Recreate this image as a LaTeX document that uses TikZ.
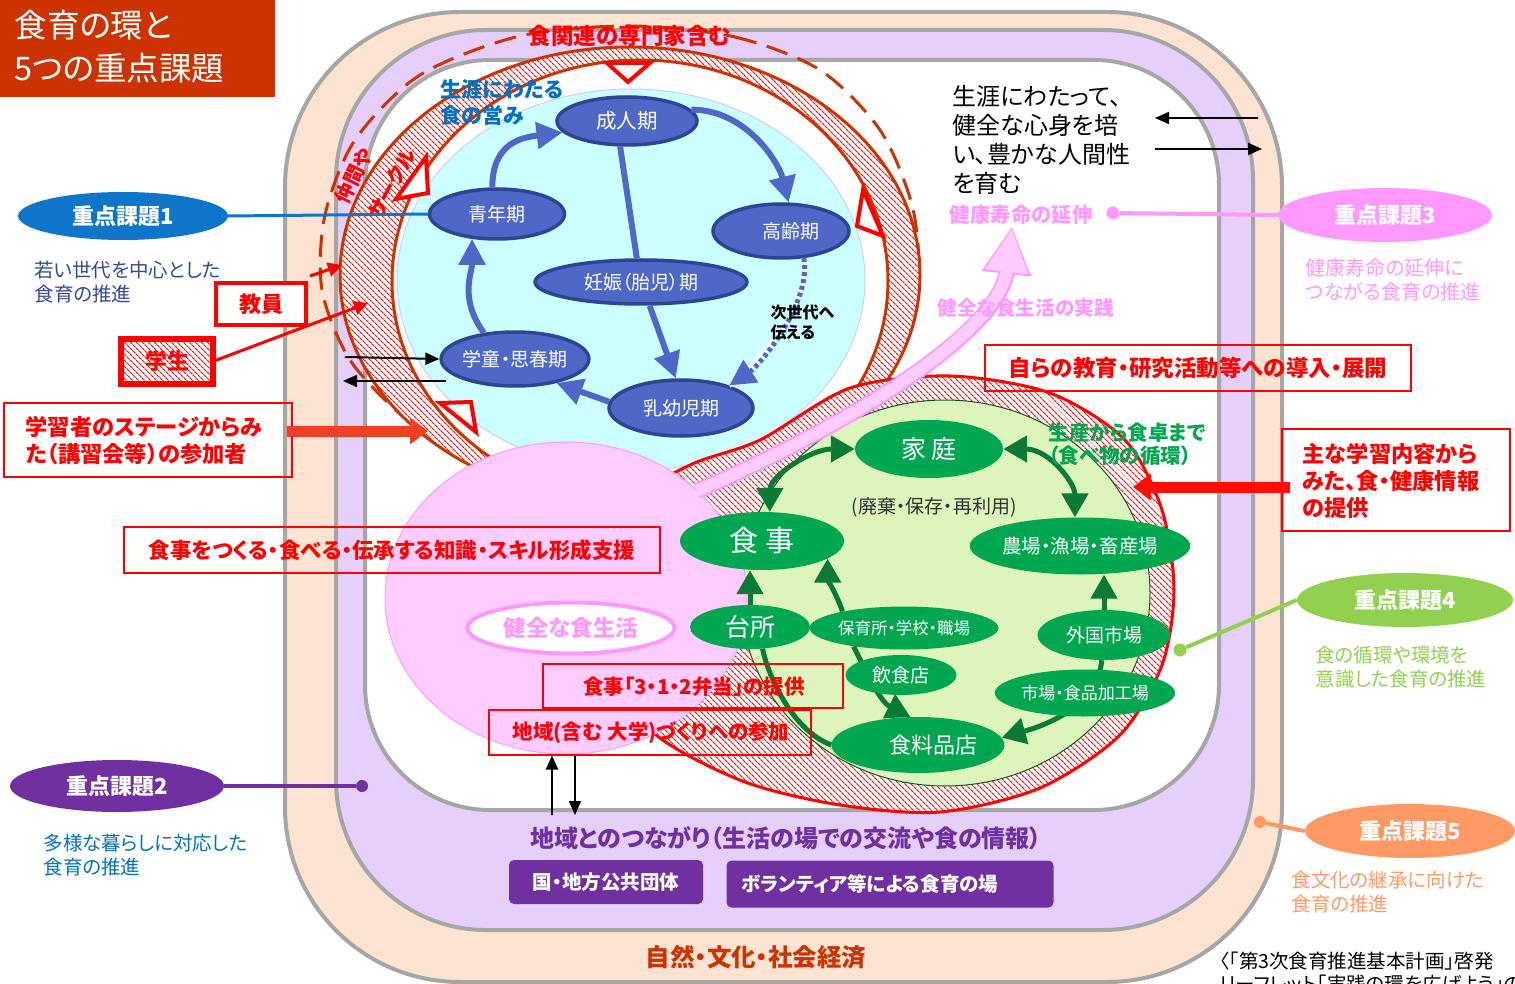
\documentclass[tikz,border=0pt]{standalone}
\usepackage{fontspec}
\setmainfont{Noto Sans CJK JP}[RawFeature=+palt]
\usetikzlibrary{arrows.meta,shapes.geometric,patterns.meta,calc}
\definecolor{peach}{HTML}{FDE4D2}
\definecolor{lav}{HTML}{E6D0FB}
\definecolor{bandgray}{HTML}{A6A6A6}
\definecolor{dred}{HTML}{CC3300}
\definecolor{cyanf}{HTML}{CCFFFF}
\definecolor{bfill}{HTML}{4F68C8}
\definecolor{bdraw}{HTML}{2E4593}
\definecolor{gnode}{HTML}{00A650}
\definecolor{glight}{HTML}{DDF5BC}
\definecolor{garr}{HTML}{0A7A36}
\definecolor{pinkd}{HTML}{FF99FF}
\definecolor{pinkl}{HTML}{FFCCFF}
\definecolor{kone}{HTML}{0E76C8}
\definecolor{ktwo}{HTML}{7030A0}
\definecolor{kfour}{HTML}{92D050}
\definecolor{kfive}{HTML}{FF9966}
\definecolor{txtblue}{HTML}{33479B}
\definecolor{lblue}{HTML}{0070C0}
\definecolor{oarr}{HTML}{EE4023}
\begin{document}
\begin{tikzpicture}[x=1pt,y=-1pt,
  band/.style={draw=bandgray,line width=4pt},
  blnode/.style={ellipse,fill=bfill,draw=bdraw,line width=3.5pt,text=white,inner sep=0pt,font=\fontsize{19}{21}\selectfont},
  grnode/.style={ellipse,fill=gnode,text=white,inner sep=0pt},
  kadai/.style={ellipse,text=white,inner sep=0pt,font=\bfseries\fontsize{22}{24}\selectfont},
  redbox/.style={draw=red,line width=2pt,inner sep=0pt},
  rtxt/.style={text=red,font=\bfseries\fontsize{20}{23}\selectfont},
  barrow/.style={draw=bfill,line width=6pt,-{Triangle[length=26pt,width=26pt]}},
  garrow/.style={draw=garr,line width=5pt,-{Triangle[length=24pt,width=26pt]}},
  gdarrow/.style={draw=garr,line width=5pt,{Triangle[length=24pt,width=26pt]}-{Triangle[length=24pt,width=26pt]}},
  blkarrow/.style={draw=black,line width=2pt,-{Triangle[length=14pt,width=12pt]}},
  rarrow/.style={draw=red,line width=3pt,-{Triangle[length=14pt,width=14pt]}},
  thickarrow/.style={draw=oarr,line width=11pt,-{Triangle[length=18pt,width=26pt]}},
  kdot/.style={circle,inner sep=0pt,minimum size=13pt},
  subtxt/.style={align=left,anchor=west,font=\fontsize{19.5}{24}\selectfont},
  tri/.style={draw=red,line width=4pt,fill=white,line join=miter},
  hatch/.style={pattern={Lines[angle=-45,distance=4pt,line width=1.2pt]},pattern color=red},
]
\useasboundingbox (0,0) rectangle (1515,984);

% bands
\draw[band,fill=peach,rounded corners=175pt] (285,12) rectangle (1282,982);
\draw[band,fill=lav,rounded corners=150pt] (336,30) rectangle (1253,930);
\draw[band,fill=white,rounded corners=125pt] (365,60) rectangle (1219,810);

% title
\fill[dred] (0,0) rectangle (275,97);
\node[anchor=west,text=white,align=left,font=\fontsize{32.5}{43}\selectfont] (title) at (11,47) {食育の環と\\5つの重点課題};

% dashed circle
\draw[dred,line width=3pt,dash pattern=on 22pt off 11pt] plot[smooth cycle] coordinates {(630,26) (735,37) (820,70) (880,130) (912,205) (918,275) (900,350) (850,420) (700,480) (550,480) (463,453) (405,418) (350,360) (322,290) (325,215) (355,140) (420,75) (520,36)};

% ring around life stages
\fill[white] (630,275) ellipse [x radius=290,y radius=228];
\fill[hatch] (630,275) ellipse [x radius=290,y radius=228];
\draw[dred,line width=3pt] (630,275) ellipse [x radius=290,y radius=228];
\draw[dred,line width=3pt,fill=white] (640,281) ellipse [x radius=248,y radius=221];
\draw[draw=blue!20,line width=1pt,fill=cyanf] (631,280) ellipse [x radius=234,y radius=191];

% ring around food cycle
\fill[white] plot[smooth cycle] coordinates {(760,440) (850,388) (950,376) (1050,393) (1125,440) (1162,510) (1174,590) (1162,665) (1120,735) (1040,788) (940,812) (840,805) (745,782) (660,738) (610,680) (600,600) (640,500) (690,465)};
\fill[hatch] plot[smooth cycle] coordinates {(760,440) (850,388) (950,376) (1050,393) (1125,440) (1162,510) (1174,590) (1162,665) (1120,735) (1040,788) (940,812) (840,805) (745,782) (660,738) (610,680) (600,600) (640,500) (690,465)};
\draw[red,line width=3pt] plot[smooth cycle] coordinates {(760,440) (850,388) (950,376) (1050,393) (1125,440) (1162,510) (1174,590) (1162,665) (1120,735) (1040,788) (940,812) (840,805) (745,782) (660,738) (610,680) (600,600) (640,500) (690,465)};
\draw[draw=garr!70!black,line width=1pt,fill=glight] (945,593) ellipse [x radius=205,y radius=193];

% pink circle
\draw[pinkd,fill=pinkl,line width=1pt] (566,598) ellipse [x radius=181,y radius=156];

% pink arrow
\coordinate (pa0) at (697,491);
\coordinate (pa1) at (1012,226);
\draw[pinkd,line width=16pt,-{Triangle[length=48pt,width=46pt]}] (pa0) .. controls (860,420) and (1000,330) .. (pa1);
\draw[pinkl,line width=12pt,-{Triangle[length=44pt,width=40pt]},shorten >=2pt] (pa0) .. controls (860,420) and (1000,330) .. (pa1);

% triangles on ring
\draw[tri] (607,63) -- (650,63) -- (628,82) -- cycle;
\draw[tri] (426,157) -- (428,193) -- (396,199) -- cycle;
\draw[tri] (863,190) -- (857,226) -- (883,236) -- cycle;
\draw[tri] (440,403) -- (471,402) -- (476,432) -- cycle;

% ring texts
\node[text=red,font=\bfseries\fontsize{22.5}{24}\selectfont] (senmon) at (630,36) {食関連の専門家含む};
\node[text=red,font=\bfseries\fontsize{20}{22}\selectfont,rotate=64,inner sep=0pt] (nakama) at (354,176) {仲間や};
\node[text=red,font=\bfseries\fontsize{20}{22}\selectfont,rotate=62,inner sep=0pt] (circle) at (392,184) {サークル};
\node[text=lblue,align=left,anchor=west,font=\bfseries\fontsize{21}{26}\selectfont] (shogai) at (437,103) {生涯にわたる\\食の営み};

% life stage nodes
\node[blnode,minimum width=140pt,minimum height=48pt,font=\fontsize{20.5}{22}\selectfont] (seijin) at (627,121) {成人期};
\node[blnode,minimum width=135pt,minimum height=50pt] (seinen) at (497,214) {青年期};
\node[blnode,minimum width=136pt,minimum height=54pt] (korei) at (781,231) {\raisebox{-5pt}{\hspace{20pt}高齢期}};
\node[blnode,minimum width=212pt,minimum height=44pt,font=\fontsize{19}{21}\selectfont] (ninshin) at (641,282) {妊娠（胎児）期};
\node[blnode,minimum width=144pt,minimum height=54pt] (gakudo) at (515,359) {学童・思春期};
\node[blnode,minimum width=144pt,minimum height=56pt] (nyuyo) at (681,408) {乳幼児期};

% life stage arrows
\draw[barrow] (seinen.100) .. controls +(0,-45) and +(-40,5) .. (seijin.190);
\draw[barrow] (seijin.10) .. controls +(55,0) and +(-10,-40) .. (korei.75);
\draw[bfill,line width=6pt] (seijin.255) -- (ninshin.100);
\draw[barrow] (ninshin.290) -- (nyuyo.100);
\draw[barrow] (nyuyo.175) -- (gakudo.330);
\draw[barrow] (gakudo.140) .. controls +(-25,-35) and +(0,35) .. (seinen.225);
\draw[white,line width=5pt] (korei.310) .. controls +(8,45) and +(30,-20) .. (nyuyo.25);
\draw[bfill,line width=5pt,dash pattern=on 4pt off 3pt,-{Triangle[length=26pt,width=26pt]}] (korei.310) .. controls +(8,45) and +(30,-20) .. (nyuyo.25);
\node[align=left,anchor=west,font=\bfseries\fontsize{16}{20}\selectfont] (jisedai) at (767,322) {次世代へ\\伝える};

% food cycle nodes
\node[grnode,minimum width=148pt,minimum height=58pt,font=\fontsize{25}{28}\selectfont] (katei) at (929,449) {家 庭};
\node[grnode,minimum width=164pt,minimum height=58pt,font=\fontsize{29}{32}\selectfont] (shokuji) at (762,541) {食 事};
\node[grnode,minimum width=219pt,minimum height=57pt,font=\fontsize{19.5}{21}\selectfont] (nojo) at (1080,546) {農場・漁場・畜産場};
\node[grnode,minimum width=189pt,minimum height=43pt,font=\fontsize{16.5}{18}\selectfont] (hoiku) at (904,628) {保育所・学校・職場};
\node[grnode,minimum width=133pt,minimum height=50pt,font=\fontsize{19}{21}\selectfont] (gaikoku) at (1104,635) {外国市場};
\node[grnode,minimum width=173pt,minimum height=56pt,font=\fontsize{22}{24}\selectfont] (shokuryo) at (918,745) {\raisebox{-4pt}{\hspace{30pt}食料品店}};
\node[grnode,minimum width=120pt,minimum height=44pt,font=\fontsize{25}{28}\selectfont] (daidokoro) at (750,627) {台所};

% food cycle arrows
\draw[gdarrow] (katei.180) .. controls +(-45,0) and +(0,-35) .. (shokuji.75);
\draw[gdarrow] (katei.0) .. controls +(45,0) and +(0,-35) .. (nojo.100);
\draw[garr,line width=5pt] (shokuryo.west) .. controls +(-40,-15) and +(5,25) .. (daidokoro.300);
\draw[garrow] (daidokoro.north) -- (daidokoro.north |- shokuji.south);
\draw[garrow] (hoiku.165) .. controls +(-5,-15) and +(0,20) .. (shokuji.345);
\draw[garrow] (hoiku.200) .. controls +(15,30) and +(-30,-15) .. (shokuryo.105);
\draw[garrow] (gaikoku.north) -- (gaikoku.north |- nojo.south);
\draw[garrow] (gaikoku.265) .. controls +(-5,50) and +(35,-10) .. (shokuryo.5);
\node[grnode,minimum width=111pt,minimum height=40pt,font=\fontsize{19}{21}\selectfont] (inshoku) at (901,675) {飲食店};
\node[grnode,minimum width=164pt,minimum height=47pt,font=\fontsize{17}{19}\selectfont] (ichiba) at (1085,693) {市場・食品加工場};

\node[text=black!80,font=\fontsize{19}{21}\selectfont] (haiki) at (934,507) {(廃棄・保存・再利用)};
\node[text=gnode,align=left,anchor=west,font=\bfseries\fontsize{20.5}{23}\selectfont] (seisan) at (1045,444) {生産から食卓まで\\（食べ物の循環）};

% pink area texts
\node[redbox,minimum width=536pt,minimum height=46pt,rtxt,font=\bfseries\fontsize{21.5}{24}\selectfont] (chishiki) at (392,550) {食事をつくる・食べる・伝承する知識・スキル形成支援};
\node[ellipse,draw=pinkd,line width=4pt,fill=white,minimum width=207pt,minimum height=51pt,inner sep=0pt,text=pinkd,font=\bfseries\fontsize{22.5}{24}\selectfont] (kenzen) at (571,628) {健全な食生活};
\node[redbox,minimum width=300pt,minimum height=44pt] (bento) at (693,686) {};
\node[rtxt,font=\bfseries\fontsize{20.5}{23}\selectfont] (bentotxt) at (694,687) {食事「3・1・2弁当」の提供};
\node[redbox,minimum width=322pt,minimum height=45pt] (chiiki) at (650,732) {};
\node[rtxt,font=\bfseries\fontsize{20.5}{23}\selectfont] (chiikitxt) at (651,733) {地域(含む 大学)づくりへの参加};

% bottom arrows
\coordinate (ub) at (552,815);
\coordinate (db) at (575,815);
\draw[blkarrow] (ub) -- (ub |- chiiki.south);
\draw[blkarrow] (db |- chiiki.south) -- (db);

% left side
\node[kadai,fill=kone,minimum width=210pt,minimum height=48pt] (k1) at (123,216) {重点課題1};
\draw[kone,line width=3pt] (k1.east) -- (seinen.west);
\node[subtxt,text=txtblue] (k1t) at (31,282) {若い世代を中心とした\\食育の推進};
\node[draw=red,line width=4pt,fill=white,minimum width=90pt,minimum height=42pt,inner sep=0pt,rtxt,font=\bfseries\fontsize{22}{24}\selectfont] (kyoin) at (261,304) {教員};
\node[draw=red,line width=4pt,fill=white,minimum width=90pt,minimum height=43pt,inner sep=0pt] (gakusei) at (167,361) {};
\fill[hatch] (gakusei.north west) rectangle (gakusei.south east);
\draw[red,line width=4pt] (gakusei.north west) rectangle (gakusei.south east);
\node[rtxt,font=\bfseries\fontsize{22}{24}\selectfont] (gakuseitxt) at (167,361) {学生};
\coordinate (kyoinend) at (342,265);
\coordinate (gakuseiend) at (368,303);
\draw[rarrow] (kyoin.north east) ++(2,-5) -- (kyoinend);
\draw[rarrow] (gakusei.east) -- (gakuseiend);
\node[redbox,minimum width=288pt,minimum height=74pt] (gakushu) at (148,440) {};
\node[rtxt,align=left,anchor=west,font=\bfseries\fontsize{22.3}{27}\selectfont] (gakushutxt) at (22,441) {学習者のステージからみ\\た（講習会等）の参加者};
\coordinate (ga0) at (287,431);
\coordinate (ga1) at (428,431);
\draw[thickarrow] (ga0) -- (ga1);
\coordinate (bl1) at (345,357);
\coordinate (bl2s) at (446,381);
\coordinate (bl2e) at (343,381);
\draw[blkarrow] (bl1) -- (gakudo.west);
\draw[blkarrow] (bl2s) -- (bl2e);

\node[kadai,fill=ktwo,minimum width=214pt,minimum height=52pt] (k2) at (117,786) {重点課題2};
\node[kdot,fill=ktwo,minimum size=12pt] (k2dot) at (362,786) {};
\draw[ktwo,line width=4pt] (k2.east) -- (k2dot);
\node[subtxt,text=lblue] (k2t) at (40,855) {多様な暮らしに対応した\\食育の推進};

% right side
\node[align=left,anchor=west,font=\fontsize{24}{29}\selectfont] (ikumu) at (949,140) {生涯にわたって、\\健全な心身を培\\い、豊かな人間性\\を育む};
\coordinate (ta1s) at (1258,118);
\coordinate (ta1e) at (1155,118);
\coordinate (ta2s) at (1155,149);
\coordinate (ta2e) at (1262,149);
\draw[blkarrow] (ta1s) -- (ta1e);
\draw[blkarrow] (ta2s) -- (ta2e);
\node[text=pinkd,font=\bfseries\fontsize{20.5}{22}\selectfont,anchor=west] (jumyo) at (946,215) {健康寿命の延伸};
\node[kadai,fill=pinkd,minimum width=214pt,minimum height=54pt] (k3) at (1385,215) {重点課題3};
\node[kdot,fill=pinkd] (k3dot) at (1113,213) {};
\draw[pinkd,line width=4pt] (k3dot) -- (k3.west);
\node[subtxt,text=pinkd,font=\fontsize{20}{24}\selectfont] (k3t) at (1302,280) {健康寿命の延伸に\\つながる食育の推進};
\node[text=pinkd,font=\bfseries\fontsize{19.7}{22}\selectfont,anchor=west] (jissen) at (934,308) {健全な食生活の実践};

\node[redbox,minimum width=426pt,minimum height=46pt,rtxt,font=\bfseries\fontsize{22.5}{25}\selectfont] (jira) at (1198,368) {自らの教育・研究活動等への導入・展開};
\node[redbox,minimum width=228pt,minimum height=102pt] (omona) at (1396,480) {};
\node[rtxt,align=left,anchor=west,font=\bfseries\fontsize{22.3}{27}\selectfont] (omonatxt) at (1299,481) {主な学習内容から\\みた、食・健康情報\\の提供};
\coordinate (oa0) at (1290,487);
\coordinate (oa1) at (1133,487);
\draw[thickarrow,draw=red!90!orange] (oa0) -- (oa1);

\node[kadai,fill=kfour,minimum width=216pt,minimum height=54pt] (k4) at (1405,600) {重点課題4};
\node[kdot,fill=kfour] (k4dot) at (1180,650) {};
\draw[kfour,line width=4pt] (k4.west) -- (k4dot);
\node[subtxt,text=kfour] (k4t) at (1312,667) {食の循環や環境を\\意識した食育の推進};

\node[kadai,fill=kfive,minimum width=210pt,minimum height=54pt] (k5) at (1410,831) {重点課題5};
\node[kdot,fill=kfive,minimum size=12pt] (k5dot) at (1260,822) {};
\draw[kfive,line width=4pt] (k5.west) -- (k5dot);
\node[subtxt,text=kfive] (k5t) at (1288,892) {食文化の継承に向けた\\食育の推進};

% bottom
\node[text=ktwo,font=\bfseries\fontsize{24}{26}\selectfont] (tsunagari) at (786,838) {地域とのつながり（生活の場での交流や食の情報）};
\node[fill=ktwo,rounded corners=5pt,minimum width=194pt,minimum height=44pt,inner sep=0pt,text=white,font=\bfseries\fontsize{19.5}{21}\selectfont] (kuni) at (606,882) {国・地方公共団体};
\node[fill=ktwo,rounded corners=5pt,minimum width=327pt,minimum height=47pt,inner sep=0pt,text=white,font=\bfseries\fontsize{19.5}{21}\selectfont] (volun) at (890,884) {\hspace{-40pt}ボランティア等による食育の場};
\node[text=dred,font=\bfseries\fontsize{24.5}{26}\selectfont] (shizen) at (756,957) {自然・文化・社会経済};
\node[anchor=north west,align=left,font=\fontsize{19.5}{23}\selectfont] (cite) at (1216,948) {〈「第3次食育推進基本計画」啓発\\リーフレット「実践の環を広げよう」の};
\end{tikzpicture}
\end{document}
